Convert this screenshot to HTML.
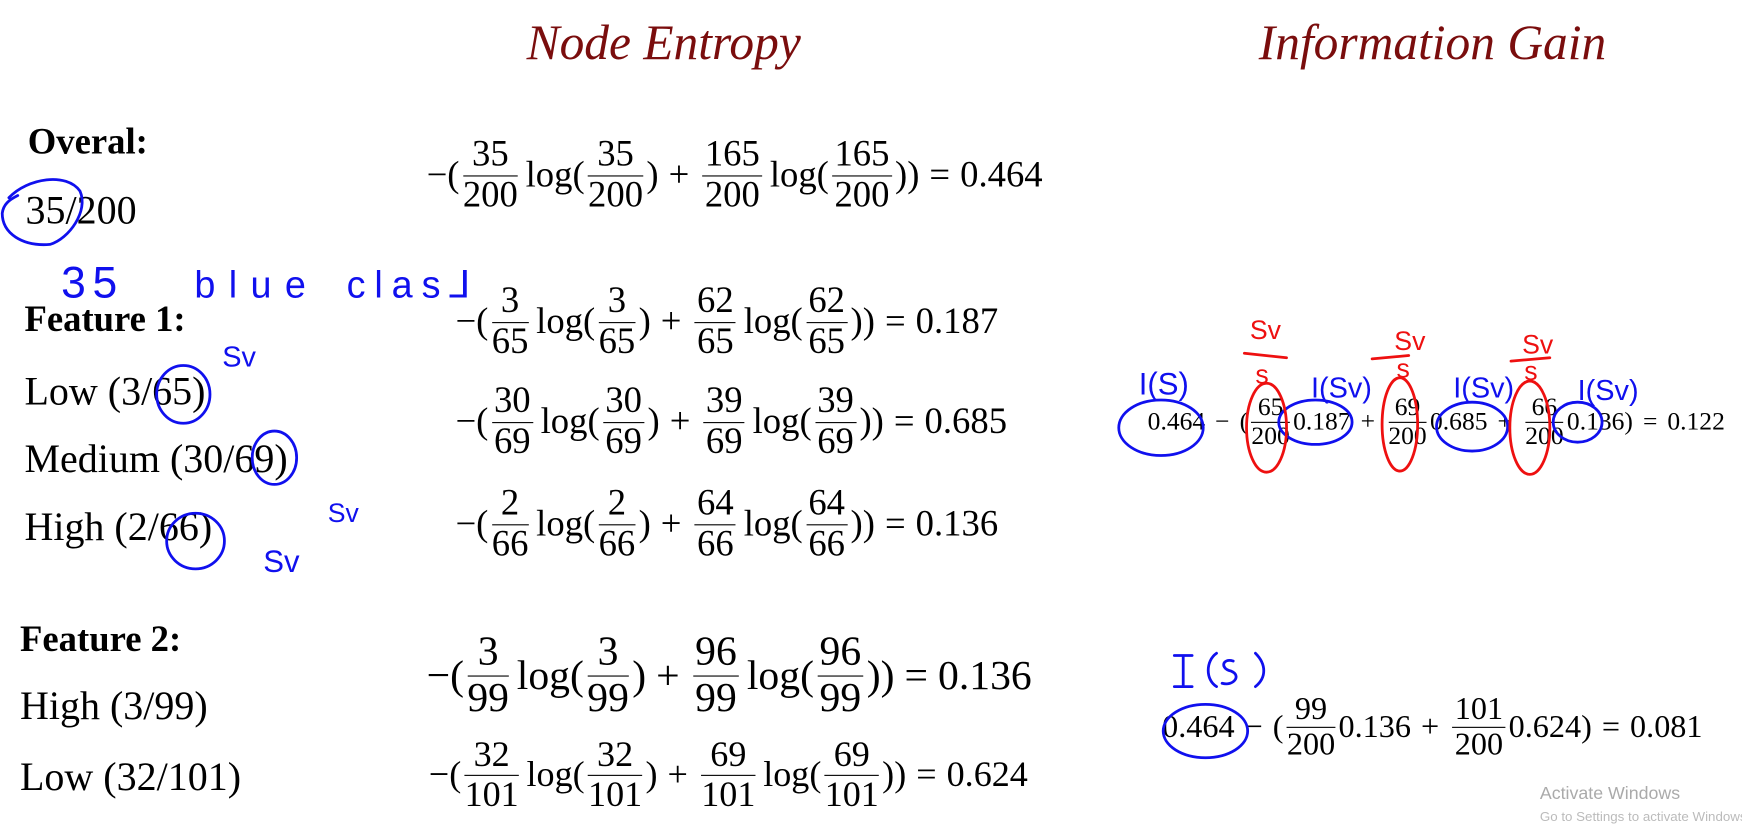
<!DOCTYPE html>
<html><head><meta charset="utf-8"><style>
body{margin:0;width:1742px;height:821px;background:#fff;position:relative;overflow:hidden;font-family:"Liberation Serif",serif;color:#000}
#wrap{position:absolute;left:0;top:0;width:1568px;height:739px;transform:scale(1.1110);transform-origin:0 0}
.a{position:absolute;white-space:nowrap}
.t{font-style:italic;color:#7a0d0d;font-size:44.5px}
.lb{font-size:36px}
.b{font-weight:bold;font-size:33px}
.f{display:inline-flex;flex-direction:column;vertical-align:middle;text-align:center;line-height:1.08;margin:0 3px}
.f span:first-child{border-bottom:1.5px solid #000;padding:0 2px}
.eq{font-size:33px;display:flex;align-items:center;transform:translateY(-50%)}
.op{margin:0 9px}
.lg{margin-left:4px}
</style></head><body><div id="wrap">
<div class="a t" style="left:474px;top:12px">Node Entropy</div>
<div class="a t" style="left:1133px;top:12px">Information Gain</div>

<div class="a b" style="left:25px;top:110px">Overal:</div>
<div class="a lb" style="left:23px;top:168px">35/200</div>
<div class="a b" style="left:22px;top:270px">Feature 1:</div>
<div class="a lb" style="left:22px;top:331px">Low (3/65)</div>
<div class="a lb" style="left:22px;top:392px">Medium (30/69)</div>
<div class="a lb" style="left:22px;top:453px">High (2/66)</div>
<div class="a b" style="left:18px;top:558px">Feature 2:</div>
<div class="a lb" style="left:18px;top:614px">High (3/99)</div>
<div class="a lb" style="left:18px;top:678px">Low (32/101)</div>

<div class="a eq" style="left:384px;top:158px">−(<span class="f"><span>35</span><span>200</span></span><span class="lg">log(</span><span class="f"><span>35</span><span>200</span></span>)<span class="op">+</span><span class="f"><span>165</span><span>200</span></span><span class="lg">log(</span><span class="f"><span>165</span><span>200</span></span>))<span class="op">=</span>0.464</div>
<div class="a eq" style="left:410px;top:290px">−(<span class="f"><span>3</span><span>65</span></span><span class="lg">log(</span><span class="f"><span>3</span><span>65</span></span>)<span class="op">+</span><span class="f"><span>62</span><span>65</span></span><span class="lg">log(</span><span class="f"><span>62</span><span>65</span></span>))<span class="op">=</span>0.187</div>
<div class="a eq" style="left:410px;top:380px">−(<span class="f"><span>30</span><span>69</span></span><span class="lg">log(</span><span class="f"><span>30</span><span>69</span></span>)<span class="op">+</span><span class="f"><span>39</span><span>69</span></span><span class="lg">log(</span><span class="f"><span>39</span><span>69</span></span>))<span class="op">=</span>0.685</div>
<div class="a eq" style="left:410px;top:472px">−(<span class="f"><span>2</span><span>66</span></span><span class="lg">log(</span><span class="f"><span>2</span><span>66</span></span>)<span class="op">+</span><span class="f"><span>64</span><span>66</span></span><span class="lg">log(</span><span class="f"><span>64</span><span>66</span></span>))<span class="op">=</span>0.136</div>
<div class="a eq" style="left:384px;top:608px;font-size:37.5px">−(<span class="f"><span>3</span><span>99</span></span><span class="lg">log(</span><span class="f"><span>3</span><span>99</span></span>)<span class="op">+</span><span class="f"><span>96</span><span>99</span></span><span class="lg">log(</span><span class="f"><span>96</span><span>99</span></span>))<span class="op">=</span>0.136</div>
<div class="a eq" style="left:386px;top:698px;font-size:32.5px">−(<span class="f"><span>32</span><span>101</span></span><span class="lg">log(</span><span class="f"><span>32</span><span>101</span></span>)<span class="op">+</span><span class="f"><span>69</span><span>101</span></span><span class="lg">log(</span><span class="f"><span>69</span><span>101</span></span>))<span class="op">=</span>0.624</div>

<div class="a eq" style="left:1033px;top:380px;font-size:23px">0.464<span class="op">−</span>(<span class="f"><span>65</span><span>200</span></span>0.187<span class="op">+</span><span class="f"><span>69</span><span>200</span></span>0.685<span class="op">+</span><span class="f"><span>66</span><span>200</span></span>0.136)<span class="op">=</span>0.122</div>
<div class="a eq" style="left:1046px;top:655px;font-size:29px">0.464<span class="op">−</span>(<span class="f"><span>99</span><span>200</span></span>0.136<span class="op">+</span><span class="f"><span>101</span><span>200</span></span>0.624)<span class="op">=</span>0.081</div>

<div class="a" style="left:1386px;top:706px;font-family:'Liberation Sans',sans-serif;font-size:16px;color:#aaa">Activate Windows</div>
<div class="a" style="left:1386px;top:728px;font-family:'Liberation Sans',sans-serif;font-size:12px;color:#bbb">Go to Settings to activate Windows.</div>

<svg class="a" style="left:0;top:0" width="1568" height="739" fill="none" stroke-width="2.5" stroke-linecap="round">
<g stroke="#1010ee">
<path d="M8 178 C25 160 60 155 72 172 C80 190 62 215 45 220 C20 222 2 210 2 192 C3 184 8 180 16 176"/>
<ellipse cx="165" cy="355" rx="24" ry="26"/>
<ellipse cx="247" cy="412" rx="20" ry="24"/>
<ellipse cx="176" cy="487" rx="26" ry="25"/>
<ellipse cx="1045" cy="385" rx="38" ry="25"/>
<ellipse cx="1184" cy="380" rx="33" ry="20"/>
<ellipse cx="1325" cy="384" rx="32" ry="22"/>
<ellipse cx="1420" cy="380" rx="22" ry="18"/>
<ellipse cx="1085" cy="658" rx="38" ry="24"/>
<path d="M1065 590 L1065 618 M1057 590 L1073 590 M1057 618 L1073 618"/>
<path d="M1095 588 C1085 595 1085 612 1095 618 M1110 595 C1100 592 1098 602 1108 604 C1118 608 1110 618 1100 615 M1130 588 C1140 598 1140 610 1130 618"/>
</g>
<g fill="#1010ee" stroke="none" font-family="Liberation Sans,sans-serif">
<text x="55" y="268" font-size="40" letter-spacing="6">35</text>
<text x="175" y="268" font-size="34" letter-spacing="12">blue</text>
<text x="312" y="268" font-size="34" letter-spacing="8">clas⅃</text>
<text x="200" y="330" font-size="26">Sv</text>
<text x="295" y="470" font-size="24">Sv</text>
<text x="237" y="515" font-size="28">Sv</text>
<text x="1025" y="355" font-size="28">I(S)</text>
<text x="1180" y="358" font-size="26">I(Sv)</text>
<text x="1308" y="358" font-size="26">I(Sv)</text>
<text x="1420" y="360" font-size="26">I(Sv)</text>
</g>
<g stroke="#ee1010">
<ellipse cx="1140" cy="385" rx="18" ry="40"/>
<ellipse cx="1260" cy="382" rx="16" ry="42"/>
<ellipse cx="1377" cy="385" rx="18" ry="42"/>
<path d="M1120 318 L1158 322 M1235 323 L1268 320 M1360 325 L1395 322"/>
</g>
<g fill="#ee1010" stroke="none" font-family="Liberation Sans,sans-serif" font-size="24">
<text x="1125" y="305">Sv</text><text x="1130" y="345">s</text>
<text x="1255" y="315">Sv</text><text x="1257" y="340">s</text>
<text x="1370" y="318">Sv</text><text x="1372" y="342">s</text>
</g>
</svg>
</div></body></html>
